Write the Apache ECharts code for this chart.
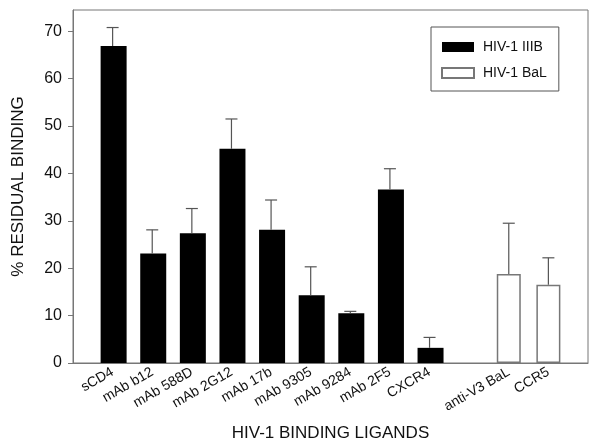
<!DOCTYPE html>
<html>
<head>
<meta charset="utf-8">
<script src="https://cdn.jsdelivr.net/npm/echarts@6/dist/echarts.min.js"></script>
<style>
  html, body { margin: 0; padding: 0; background: #fff; }
  #chart { width: 600px; height: 447px; }
</style>
</head>
<body>
<div id="chart"></div>
<script>
// x slots 0..13, blank slots at the ends and between the two groups
const categories = [' ', 'sCD4', 'mAb b12', 'mAb 588D', 'mAb 2G12', 'mAb 17b', 'mAb 9305',
    'mAb 9284', 'mAb 2F5', 'CXCR4', '  ', 'anti-V3 BaL', 'CCR5', '   '];
const iiibIdx = [1, 2, 3, 4, 5, 6, 7, 8, 9];
const iiibValues = [66.9, 23.1, 27.4, 45.2, 28.1, 14.3, 10.5, 36.6, 3.2];
const iiibErrors = [3.9, 5.0, 5.2, 6.3, 6.3, 6.0, 0.4, 4.4, 2.2];
const balIdx = [11, 12];
const balValues = [18.8, 16.5];
const balErrors = [10.7, 5.7];
const yTicks = [0, 10, 20, 30, 40, 50, 60, 70];

const font = 'Liberation Sans, Arial, sans-serif';

function slotData(idx, vals) {
    const out = categories.map(() => null);
    idx.forEach((k, i) => { out[k] = vals[i]; });
    return out;
}

const errData = [];
iiibIdx.forEach((k, i) => errData.push([k, iiibValues[i], iiibValues[i] + iiibErrors[i]]));
balIdx.forEach((k, i) => errData.push([k, balValues[i], balValues[i] + balErrors[i]]));

const chart = echarts.init(document.getElementById('chart'));
chart.setOption({
    animation: false,
    backgroundColor: '#fff',
    grid: {
        left: 73, right: 12, top: 10, bottom: 77,
        show: true, borderColor: '#777', borderWidth: 1
    },
    legend: {
        orient: 'vertical',
        left: 431, top: 27,
        width: 126,
        padding: [13, 12, 11, 10],
        itemWidth: 32, itemHeight: 10, itemGap: 12,
        icon: 'rect',
        borderColor: '#555', borderWidth: 1,
        textStyle: { fontFamily: font, fontSize: 14, color: '#111', padding: [0, 0, 0, 4] },
        data: ['HIV-1 IIIB', 'HIV-1 BaL']
    },
    xAxis: {
        type: 'category',
        data: categories,
        boundaryGap: false,
        axisLine: { lineStyle: { color: '#777', width: 1 } },
        axisTick: { show: false },
        splitLine: { show: false },
        axisLabel: {
            interval: 0, rotate: 30, margin: 8,
            fontFamily: font, fontSize: 14, color: '#111'
        },
        name: 'HIV-1 BINDING LIGANDS',
        nameLocation: 'middle',
        nameGap: 62,
        nameTextStyle: { fontFamily: font, fontSize: 17, color: '#111' }
    },
    yAxis: {
        type: 'value',
        min: 0, max: 74.5,
        axisLine: { show: true, lineStyle: { color: '#777', width: 1 } },
        axisTick: { show: true, length: 5, customValues: yTicks, lineStyle: { color: '#777' } },
        splitLine: { show: false },
        axisLabel: {
            customValues: yTicks, margin: 11,
            fontFamily: font, fontSize: 16, color: '#111'
        },
        name: '% RESIDUAL BINDING',
        nameLocation: 'middle',
        nameGap: 46,
        nameTextStyle: { fontFamily: font, fontSize: 17, color: '#111' }
    },
    series: [
        {
            name: 'HIV-1 IIIB',
            type: 'bar',
            barWidth: 26,
            barGap: '-100%',
            itemStyle: { color: '#000', borderColor: '#000', borderWidth: 0 },
            data: slotData(iiibIdx, iiibValues)
        },
        {
            name: 'HIV-1 BaL',
            type: 'bar',
            barWidth: 24,
            barGap: '-100%',
            itemStyle: { color: '#fff', borderColor: '#777', borderWidth: 1.5 },
            data: slotData(balIdx, balValues)
        },
        {
            type: 'custom',
            silent: true,
            z: 5,
            renderItem: function (params, api) {
                const base = api.coord([api.value(0), api.value(1)]);
                const top = api.coord([api.value(0), api.value(2)]);
                const half = 6;
                const style = { stroke: '#555', lineWidth: 1.2 };
                return {
                    type: 'group',
                    children: [
                        { type: 'line', shape: { x1: base[0], y1: base[1], x2: top[0], y2: top[1] }, style: style },
                        { type: 'line', shape: { x1: top[0] - half, y1: top[1], x2: top[0] + half, y2: top[1] }, style: style }
                    ]
                };
            },
            encode: { x: 0, y: [1, 2] },
            data: errData
        }
    ]
});
</script>
</body>
</html>
